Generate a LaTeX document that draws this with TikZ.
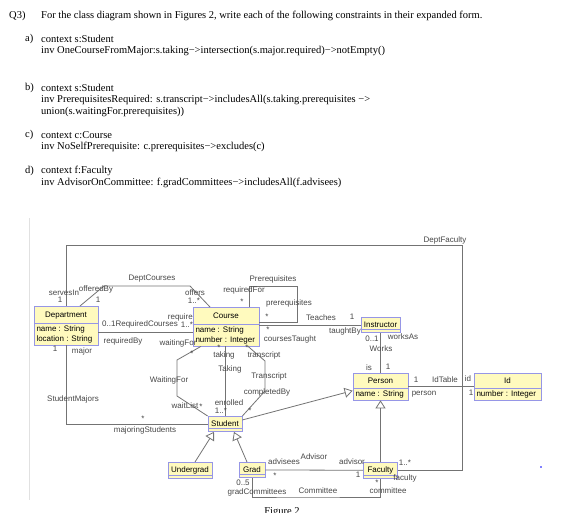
\documentclass[tikz,border=0pt]{standalone}
\usepackage{fontspec}
\setmainfont{Liberation Serif}
\newfontfamily\umlfont{Liberation Sans}
\usetikzlibrary{arrows.meta,shapes,positioning,calc}
\definecolor{umlFill}  {RGB}{255,250,190}
\definecolor{umlBorder}{RGB}{150,150,230}
\definecolor{assocGray}{RGB}{115,115,115}
\definecolor{roleGray} {RGB}{70, 70, 70}
\definecolor{paperLine}{RGB}{225,225,225}
% class title: total strut height, strut depth, name
\newcommand{\ctitle}[3]{\centering\rule[-#2]{0pt}{#1}#3\par}

\begin{document}
\begin{tikzpicture}[x=1pt,y=-1pt,
          cls/.style={rectangle split,rectangle split parts=2,anchor=north,
                      draw=umlBorder,fill=umlFill,line width=0.8pt,
                      inner xsep=2.5pt,inner ysep=1.75pt,align=flush left,
                      font=\umlfont\fontsize{8}{10}\selectfont},
          clsSmall/.style={cls,inner ysep=1pt},
          role/.style={font=\umlfont\fontsize{8}{10}\selectfont,text=roleGray,inner sep=0pt},
          txt/.style={font=\fontsize{10.5}{12.6}\selectfont,anchor=west,inner sep=0pt},
          assoc/.style={draw=assocGray,line width=0.8pt},
          isa/.style={assoc,-{Triangle[open,length=8pt,width=10pt]}},
        ]
        \useasboundingbox (0,0) rectangle (563,513);
        \draw[paperLine,line width=0.8pt] (29,218) -- (29,500);

        % QUESTION
        \node[txt] (q)    at (9,16)   {Q3)};
        \node[txt] (qTxt) at (41,16)  {For the class diagram shown in Figures 2, write each of the following constraints in their expanded form.};
        \node[txt] (a)    at (25,39)  {a)};
        \node[txt] (aCtx) at (41,39)  {context s:Student};
        \node[txt] (aInv) at (41,51)  {inv OneCourseFromMajor:s.taking−>intersection(s.major.required)−>notEmpty()};
        \node[txt] (b)    at (25,88)  {b)};
        \node[txt] (bCtx) at (41,88)  {context s:Student};
        \node[txt] (bInv) at (41,100) {inv PrerequisitesRequired: s.transcript−>includesAll(s.taking.prerequisites −>};
        \node[txt] (bEnd) at (41,112) {union(s.waitingFor.prerequisites))};
        \node[txt] (c)    at (25,135) {c)};
        \node[txt] (cCtx) at (41,135) {context c:Course};
        \node[txt] (cInv) at (41,147) {inv NoSelfPrerequisite: c.prerequisites−>excludes(c)};
        \node[txt] (d)    at (25,171) {d)};
        \node[txt] (dCtx) at (41,171) {context f:Faculty};
        \node[txt] (dInv) at (41,183) {inv AdvisorOnCommittee: f.gradCommittees−>includesAll(f.advisees)};

        % CLASSES
        \node[cls,text width=59pt] (dept) at (66,306)
          {\ctitle{12.5pt}{3.35pt}{Department}\nodepart{two}name : String\\location : String};
        \node[cls,text width=61pt] (course) at (226,307)
          {\ctitle{12.5pt}{3.35pt}{Course}\nodepart{two}name : String\\number : Integer};
        \node[clsSmall,text width=34pt] (instr) at (380.5,317)
          {\ctitle{9.5pt}{1pt}{Instructor}\nodepart{two}};
        \node[cls,text width=50pt] (person) at (380.5,373)
          {\ctitle{10.5pt}{2.35pt}{Person}\nodepart{two}name : String};
        \node[cls,text width=62pt] (idBox) at (507.5,373)
          {\ctitle{10.5pt}{2.35pt}{Id}\nodepart{two}number : Integer};
        \node[clsSmall,text width=29pt] (student) at (225,416)
          {\ctitle{9.5pt}{1pt}{Student}\nodepart{two}};
        \node[clsSmall,text width=39pt] (ugrad) at (190,462)
          {\ctitle{9.5pt}{1pt}{Undergrad}\nodepart{two}};
        \node[clsSmall,text width=21pt] (grad) at (252,462)
          {\ctitle{9.5pt}{1pt}{Grad}\nodepart{two}};
        \node[clsSmall,text width=29pt] (fac) at (380.5,462)
          {\ctitle{9.5pt}{1pt}{Faculty}\nodepart{two}};

        % ASSOCIATIONS
        \coordinate (dfCorner)  at (462,245);
        \coordinate (dcLeft)    at (104,286);
        \coordinate (dcRight)   at (190,286);
        \coordinate (preCorner) at (297,286);
        \coordinate (rcStart)   at ([yshift=-6.5pt]dept.east);
        \coordinate (wfTop)     at (177,360);
        \coordinate (wfBot)     at (177,396);
        \coordinate (trTop)     at (265,361);
        \coordinate (trBot)     at (265,391);
        \coordinate (cmBot)     at (300,497);
        \draw[assoc] (dept.north) |- (dfCorner) |- (fac.east);
        \draw[assoc] ([xshift=14pt]dept.north) -- (dcLeft) -- (dcRight) -- ([xshift=-16pt]course.north);
        \draw[assoc] ([xshift=23pt]course.north) |- (preCorner) |- ([yshift=4.5pt]course.east);
        \draw[assoc] (instr.west -| course.east) -- (instr.west);
        \draw[assoc] (instr.south) -- (person.north);
        \draw[assoc] (person.east) -- (idBox.west);
        \draw[assoc] (rcStart) -- (rcStart -| course.west);
        \draw[assoc] (dept.south) |- (student.west);
        \draw[assoc] ([xshift=-25pt]course.south) -- (wfTop) -- (wfBot) -- (student.north west);
        \draw[assoc] (course.south -| student.north) -- (student.north);
        \draw[assoc] ([xshift=22pt]course.south) -- (trTop) -- (trBot) -- (student.north east);
        \draw[assoc] (grad.east) -- (fac.west);
        \draw[assoc] (grad.south) |- (cmBot) -| (fac.south);

        % GENERALIZATIONS
        \draw[isa] ([yshift=4pt]student.east) -- ([yshift=-4pt]person.west);
        \draw[isa] (fac.north) -- (person.south);
        \draw[isa] ([xshift=5pt]ugrad.north) -- ([xshift=-11pt]student.south);
        \draw[isa] ([xshift=-5pt]grad.north) -- ([xshift=9pt]student.south);

        % ROLE AND ASSOCIATION NAMES
        \node[role] (dfName)   at (445,240) {DeptFaculty};
        \node[role] (dfDept)   at (64,293)  {servesIn};
        \node[role] (dfMul)    at (60,300)  {1};
        \node[role] (dcName)   at (152,279) {DeptCourses};
        \node[role] (dcDept)   at (96,289)  {offeredBy};
        \node[role] (dcDMul)   at (98,300)  {1};
        \node[role] (dcCourse) at (195,293) {offers};
        \node[role] (dcCMul)   at (194,301) {1..*};
        \node[role] (preName)  at (273,279) {Prerequisites};
        \node[role] (preFor)   at (244,290) {requiredFor};
        \node[role] (preForM)  at (242,302) {*};
        \node[role] (preReq)   at (289,303) {prerequisites};
        \node[role] (preReqM)  at (267,317) {*};
        \node[role] (tName)    at (321,318) {Teaches};
        \node[role] (tInsM)    at (352,317) {1};
        \node[role] (tIns)     at (345,331) {taughtBy};
        \node[role] (tCrsM)    at (268,330) {*};
        \node[role] (tCrs)     at (290,339) {coursesTaught};
        \node[role] (wInsM)    at (372,339) {0..1};
        \node[role] (wIns)     at (403,337) {worksAs};
        \node[role] (wName)    at (381,349) {Works};
        \node[role] (wPer)     at (369,368) {is};
        \node[role] (wPerM)    at (388,367) {1};
        \node[role] (iPerM)    at (416,380) {1};
        \node[role] (iName)    at (445,380) {IdTable};
        \node[role] (iId)      at (468,379) {id};
        \node[role] (iPer)     at (424,394) {person};
        \node[role] (iIdM)     at (471,393) {1};
        \node[role] (rcName)   at (140,324) {0..1RequiredCourses};
        \node[role] (rcCMul)   at (187,325) {1..*};
        \node[role,anchor=east] (rcCrs) at (193,317) {require};
        \node[role] (rcDept)   at (123,341) {requiredBy};
        \node[role] (smDMul)   at (55,349)  {1};
        \node[role] (smDept)   at (82,351)  {major};
        \node[role] (smName)   at (73,399)  {StudentMajors};
        \node[role] (smSMul)   at (143,419) {*};
        \node[role] (smStu)    at (145,430) {majoringStudents};
        \node[role] (wfCrs)    at (178,343) {waitingFor};
        \node[role] (wfCMul)   at (192,354) {*};
        \node[role] (wfName)   at (169,380) {WaitingFor};
        \node[role] (wfStu)    at (185,406) {waitList};
        \node[role] (wfSMul)   at (201,407) {*};
        \node[role] (tkCMul)   at (219,347.5) {*};
        \node[role] (tkCrs)    at (224,355) {taking};
        \node[role] (tkName)   at (230,369) {Taking};
        \node[role] (tkStu)    at (229,403) {enrolled};
        \node[role] (tkSMul)   at (221,411) {1..*};
        \node[role] (trCMul)   at (247,348) {*};
        \node[role] (trCrs)    at (264,355) {transcript};
        \node[role] (trName)   at (269,376) {Transcript};
        \node[role] (trStu)    at (267,392) {completedBy};
        \node[role] (trSMul)   at (250,411) {*};
        \node[role] (adGrad)   at (284,462) {advisees};
        \node[role] (adName)   at (314,457) {Advisor};
        \node[role] (adFac)    at (352,462) {advisor};
        \node[role] (adGMul)   at (275,476) {*};
        \node[role] (adFMul)   at (358,475) {1};
        \node[role] (cmGMul)   at (243,483) {0..5};
        \node[role] (cmGrad)   at (257,492) {gradCommittees};
        \node[role] (cmName)   at (318,491) {Committee};
        \node[role] (cmFMul)   at (377,483) {*};
        \node[role] (cmFac)    at (388,491) {committee};
        \node[role] (dfFMul)   at (405,463) {1..*};
        \node[role] (dfFac)    at (405,478) {faculty};

        \fill[blue] (541,467) circle (0.9pt);
        \node[txt,anchor=center] (fig) at (282,512) {Figure 2};
      \end{tikzpicture}
\end{document}
